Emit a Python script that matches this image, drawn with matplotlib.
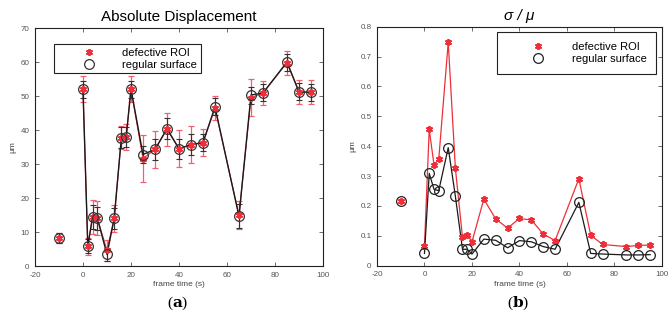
import matplotlib
matplotlib.use("Agg")
import matplotlib.pyplot as plt
import numpy as np

plt.rcParams["font.family"] = ["Liberation Sans", "DejaVu Sans"]
plt.rcParams["axes.unicode_minus"] = False
plt.rcParams["mathtext.fontset"] = "dejavuserif"

# frame times (s); the first point (-10 s) is a reference frame, not joined to the line
FRAME_T = [-10, 0, 2, 4, 6, 10, 13, 16, 18, 20, 25, 30, 35, 40, 45, 50, 55, 65, 70, 75, 85, 90, 95]

# (a) absolute displacement, um
DISP_DEF = [8.3, 52.0, 5.8, 14.5, 14.0, 4.6, 14.0, 37.8, 38.0, 52.0, 31.6, 34.3, 40.2,
            34.5, 35.7, 36.3, 46.4, 15.0, 49.5, 50.9, 59.8, 51.2, 51.1]
DISP_DEF_ERR = [1.5, 3.8, 2.5, 5.0, 5.0, 3.0, 4.0, 3.5, 3.8, 3.8, 7.0, 5.5, 4.8,
                5.5, 5.5, 4.0, 3.5, 4.0, 5.5, 3.5, 3.5, 3.5, 3.5]
DISP_REG = [8.3, 52.0, 5.8, 14.5, 14.0, 3.4, 14.0, 37.8, 38.0, 52.0, 32.8, 34.3, 40.4,
            34.5, 35.7, 36.3, 46.8, 14.6, 50.3, 50.9, 60.0, 51.2, 51.1]
DISP_REG_ERR = [1.5, 2.5, 2.0, 3.5, 3.5, 2.0, 3.0, 3.0, 3.0, 2.5, 2.5, 3.0, 3.0,
                3.0, 3.0, 2.5, 2.5, 3.5, 2.5, 2.5, 2.5, 2.5, 2.5]

# (b) coefficient of variation sigma/mu
CV_DEF = [0.217, 0.067, 0.456, 0.338, 0.356, 0.748, 0.327, 0.095, 0.103, 0.080, 0.223, 0.156,
          0.126, 0.158, 0.153, 0.106, 0.084, 0.291, 0.102, 0.071, 0.064, 0.068, 0.069]
CV_REG = [0.217, 0.041, 0.309, 0.256, 0.251, 0.395, 0.233, 0.055, 0.055, 0.039, 0.089, 0.085,
          0.060, 0.084, 0.080, 0.064, 0.055, 0.212, 0.041, 0.039, 0.036, 0.036, 0.037]

RED = "#ee2f3a"
BLK = "#1a1a1a"
TICK_C = "#555555"

t = np.array(FRAME_T)
joined = t >= 0


def style_axes(ax, ylim, yticks):
    ax.set_xlim(-20, 100)
    ax.set_xticks(np.arange(-20, 101, 20))
    ax.set_ylim(*ylim)
    ax.set_yticks(yticks)
    ax.tick_params(direction="in", top=True, right=True, length=3, width=0.6,
                   labelsize=5.8, colors=TICK_C, pad=4)
    for s in ax.spines.values():
        s.set_linewidth(0.8)
        s.set_color("#222222")
    ax.set_xlabel("frame time (s)", fontsize=6, color="#444444", labelpad=2)
    ax.set_ylabel("μm", fontsize=6, color="#444444", labelpad=3)


def add_legend(ax, **kw):
    leg = ax.legend(fontsize=8, frameon=True, fancybox=False, edgecolor="#222222",
                    handlelength=5.6, handletextpad=0.2, labelspacing=0.12,
                    framealpha=1, **kw)
    leg.get_frame().set_linewidth(0.8)
    return leg


fig = plt.figure(figsize=(6.69, 3.26), dpi=100)
ax1 = fig.add_axes([0.0523, 0.184, 0.4305, 0.730])
ax2 = fig.add_axes([0.5635, 0.185, 0.426, 0.733])

star = dict(marker=(6, 2, 0), ms=5, mew=1.3)

# ---- (a) absolute displacement
d_def = np.array(DISP_DEF)
d_reg = np.array(DISP_REG)
ax1.errorbar(t, d_def, yerr=DISP_DEF_ERR, fmt="none", ecolor="#f06070", elinewidth=0.9,
             capsize=2, capthick=0.9, zorder=2)
ax1.errorbar(t, d_reg, yerr=DISP_REG_ERR, fmt="none", ecolor="#333333", elinewidth=0.8,
             capsize=2, capthick=0.8, zorder=3)
ax1.plot(t[joined], d_def[joined], color=RED, lw=0.8, zorder=3)
ax1.plot(t[joined], d_reg[joined], color=BLK, lw=1.0, zorder=4)
ax1.plot(t, d_def, ls="none", color=RED, zorder=5, label="defective ROI", **star)
ax1.plot(t, d_reg, ls="none", marker="o", ms=7, mfc="none", mec="#333333", mew=0.9,
         zorder=6, label="regular surface")
style_axes(ax1, (0, 70), np.arange(0, 71, 10))
ax1.set_title("Absolute Displacement", fontsize=11, pad=5)
add_legend(ax1, loc="upper left", bbox_to_anchor=(0.045, 0.955), borderpad=0.35)

# ---- (b) sigma / mu
c_def = np.array(CV_DEF)
c_reg = np.array(CV_REG)
ax2.plot(t[joined], c_def[joined], color=RED, lw=0.9, zorder=3)
ax2.plot(t[joined], c_reg[joined], color=BLK, lw=0.9, zorder=4)
ax2.plot(t, c_def, ls="none", color=RED, zorder=5, label="defective ROI", **star)
ax2.plot(t, c_reg, ls="none", marker="o", ms=7, mfc="none", mec="#222222", mew=0.9,
         zorder=6, label="regular surface")
style_axes(ax2, (0, 0.8), np.arange(0, 0.81, 0.1))
ax2.set_yticklabels(["0"] + [f"{v:.1f}" for v in np.arange(0.1, 0.81, 0.1)])
ax2.set_title("σ / μ", fontsize=11, style="italic", pad=5)
add_legend(ax2, loc="upper right", bbox_to_anchor=(1.0, 1.0), borderpad=0.9)

for lab, xpos in [("a", 0.266), ("b", 0.774)]:
    fig.text(xpos, 0.07, r"($\mathbf{" + lab + r"}$)", ha="center", va="center",
             fontsize=11, family=["Liberation Serif", "DejaVu Serif"])

fig.savefig("out.png", dpi=100)
